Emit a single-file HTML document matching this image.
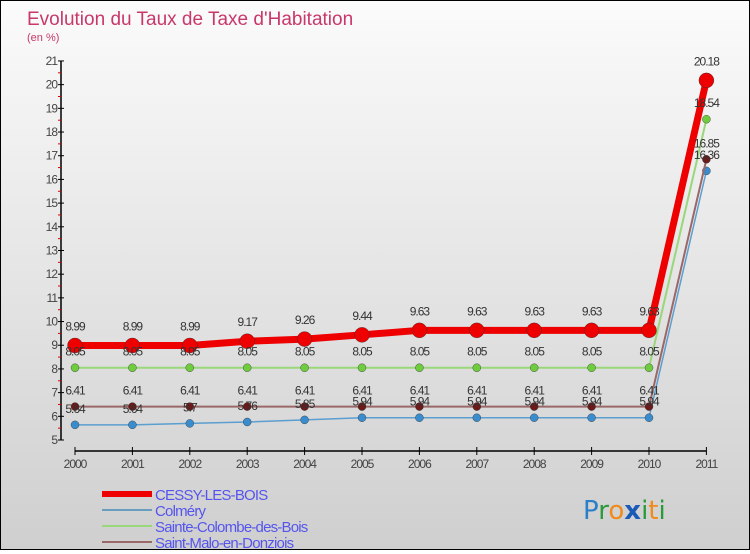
<!DOCTYPE html>
<html><head><meta charset="utf-8"><style>
html,body{margin:0;padding:0}
body{width:750px;height:550px;overflow:hidden;font-family:"Liberation Sans",sans-serif}
#wrap{position:relative;width:748px;height:548px;border:1px solid #000;background:linear-gradient(#fbfbfb,#cfcfcf)}
</style></head><body>
<div id="wrap">
<svg id="chart" width="748" height="548"></svg>
</div>
<script>
const years=["2000","2001","2002","2003","2004","2005","2006","2007","2008","2009","2010","2011"];
const yTicks=[5,6,7,8,9,10,11,12,13,14,15,16,17,18,19,20,21];
const cessy=[8.99,8.99,8.99,9.17,9.26,9.44,9.63,9.63,9.63,9.63,9.63,20.18];
const colmery=[5.64,5.64,5.7,5.76,5.85,5.94,5.94,5.94,5.94,5.94,5.94,16.36];
const colombe=[8.05,8.05,8.05,8.05,8.05,8.05,8.05,8.05,8.05,8.05,8.05,18.54];
const malo=[6.41,6.41,6.41,6.41,6.41,6.41,6.41,6.41,6.41,6.41,6.41,16.85];
const seriesNames=["CESSY-LES-BOIS","Colméry","Sainte-Colombe-des-Bois","Saint-Malo-en-Donziois"];

const NS="http://www.w3.org/2000/svg";
const svg=document.getElementById('chart');
function el(t,a,txt){const e=document.createElementNS(NS,t);for(const k in a)e.setAttribute(k,a[k]);if(txt!==undefined)e.textContent=txt;svg.appendChild(e);return e;}
const x=i=>74+i*57.4;
const y=v=>439-(v-5)*23.69;

let t=el('text',{x:26,y:24,fill:'#c8386a','font-size':19},'Evolution du Taux de Taxe d\'Habitation');


t=el('text',{x:26,y:40,fill:'#c8386a','font-size':11},'(en %)');



let a=el('line',{x1:60,y1:y(21),x2:60,y2:y(5),stroke:'#000','stroke-width':1.5});


yTicks.forEach(v=>{
  el('line',{x1:57,x2:63,y1:y(v),y2:y(v),stroke:'#000'});
  if(v<21)el('line',{x1:57,x2:60,y1:y(v+0.5),y2:y(v+0.5),stroke:'#d00'});
  const l=el('text',{x:56,y:y(v)+4,'text-anchor':'end','font-size':12,fill:'#444','letter-spacing':'-1'},v);
  
  
});
a=el('line',{x1:x(0),y1:450,x2:x(11),y2:450,stroke:'#000','stroke-width':1.5});


years.forEach((yr,i)=>{
  el('line',{x1:x(i),x2:x(i),y1:446,y2:454,stroke:'#000'});
  const l=el('text',{x:x(i),y:467,'text-anchor':'middle','font-size':12,fill:'#444','letter-spacing':'-1'},yr);
  
  
});

function series(vals,color,width,dot,dotColor,name,dy){
  const p=el('polyline',{points:vals.map((v,i)=>x(i)+','+y(v)).join(' '),fill:'none',stroke:color,'stroke-width':width,'stroke-linejoin':'round'});
  
  
  vals.forEach((v,i)=>{
    const c=el('circle',{cx:x(i),cy:y(v),r:dot,fill:dotColor,stroke:'#333','stroke-width':0.4});
    
    
  });
}
function labels(vals,name,dy){
  vals.forEach((v,i)=>{
    const l=el('text',{x:x(i),y:y(v)+dy,'text-anchor':'middle','font-size':12,fill:'#333','letter-spacing':'-1'},String(v));
    
    
  });
}
series(colmery,'#5b9ed0',1.5,4,'#3a8ccc','colmery');
series(malo,'#9a6868',2,4,'#6b1a1a','saint-malo');
series(colombe,'#9ad67a',2,4,'#6fcc3e','sainte-colombe');
series(cessy,'#ee0000',7,7.5,'#ee0000','cessy');
labels(colmery,'colmery',-12);
labels(malo,'saint-malo',-12);
labels(colombe,'sainte-colombe',-12);
labels(cessy,'cessy',-15);

const leg=[['#ee0000',6],['#6a9ec0',2],['#9ad67a',2],['#9a6868',2]];
leg.forEach((d,i)=>{
  const yy=493+i*16;
  const r=el('rect',{x:101,y:yy-d[1]/2,width:50,height:d[1],fill:d[0]});
  
  
  const l=el('text',{x:154,y:yy+6,'font-size':15,fill:'#5555ee','letter-spacing':'-0.8'},seriesNames[i]);
  
  
});
const logo=el('text',{x:582,y:518,'font-size':26,'font-family':'DejaVu Sans, sans-serif'});


[['P','#2a7fc8'],['r','#2a9a3a'],['o','#f08a1a'],['x','#1a5ab8'],['i','#2a9a3a'],['t','#f08a1a'],['i','#2a9a3a']].forEach(c=>{
  const s=document.createElementNS(NS,'tspan');s.setAttribute('fill',c[1]);if(c[0]==='x')s.setAttribute('font-weight','bold');s.textContent=c[0];logo.appendChild(s);
});
</script>
</body></html>
